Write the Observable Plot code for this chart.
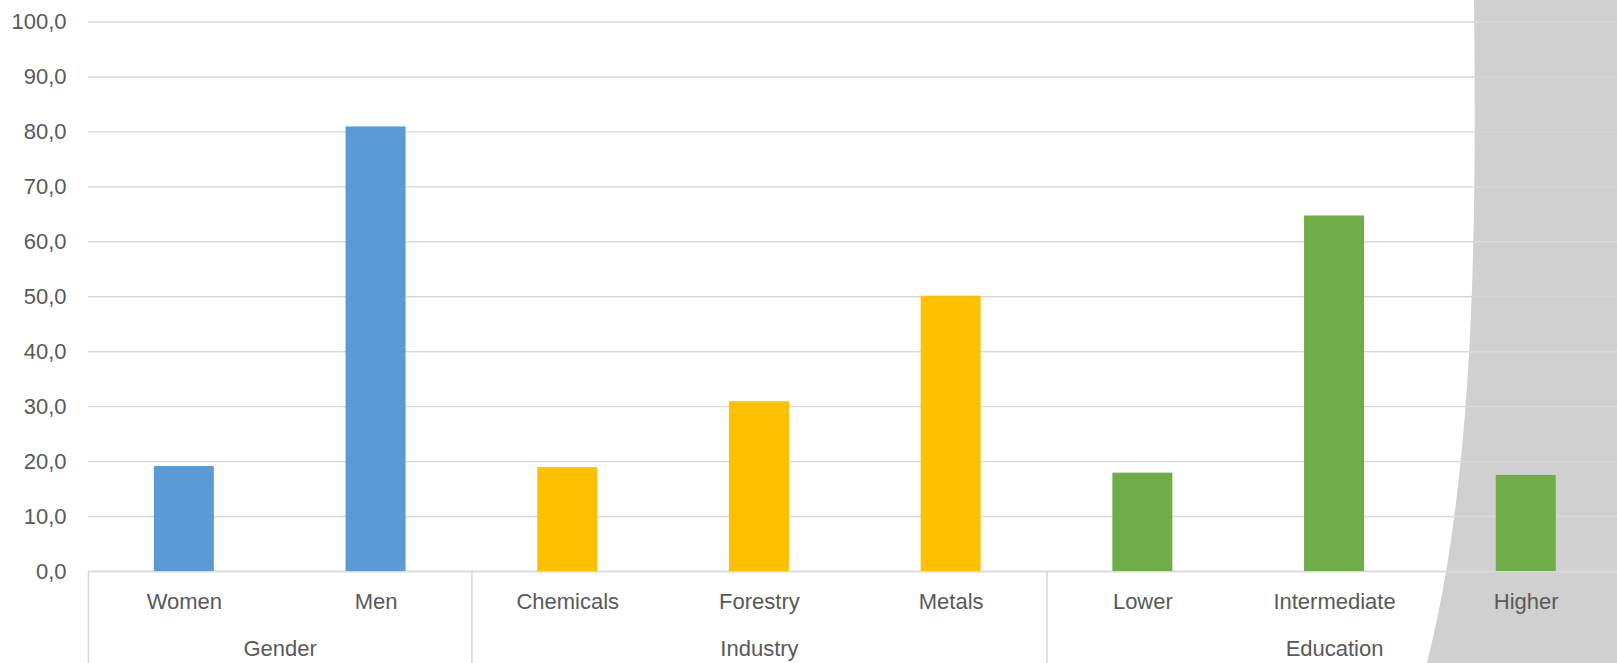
<!DOCTYPE html>
<html><head><meta charset="utf-8">
<script src="https://cdn.jsdelivr.net/npm/d3@7"></script>
<script src="https://cdn.jsdelivr.net/npm/@observablehq/plot@0.6"></script>
<style>
html,body{margin:0;padding:0;background:#fff;overflow:hidden}
#wrap{position:relative;width:1617px;height:663px}
#shade{position:absolute;left:0;top:0}
#chart{position:absolute;left:0;top:0}
</style></head><body>
<div id="wrap">
<svg id="shade" width="1617" height="663"><path d="M1474,0 C1477,250 1473,480 1427,663 L1617,663 L1617,0 Z" fill="#d0d0d0"/></svg>
<div id="chart"></div>
</div>
<script>
const categories = ["Women", "Men", "Chemicals", "Forestry", "Metals", "Lower", "Intermediate", "Higher"];
const categoryGroups = ["Gender", "Gender", "Industry", "Industry", "Industry", "Education", "Education", "Education"];
const values = [19.1, 80.9, 18.9, 30.9, 50.1, 17.9, 64.7, 17.5];
const groupNames = ["Gender", "Industry", "Education"];
const groupColors = ["#5B9BD5", "#FFC000", "#70AD47"];
const yTicks = [0, 10, 20, 30, 40, 50, 60, 70, 80, 90, 100];

const W = 1617, H = 663;
const mLeft = 88, mTop = 21.5, mBottom = 92;
const xRange = [mLeft, 1621.6];
const step = (xRange[1] - xRange[0]) / categories.length;
const barW = 60;
const pxPerUnit = (H - mBottom - mTop) / 100;

const data = categories.map((c, i) => ({cat: c, group: categoryGroups[i], value: values[i]}));
const colorOf = g => groupColors[groupNames.indexOf(g)];

// group layout (first category, middle category, even count?)
const groupInfo = groupNames.map(g => {
  const idx = categoryGroups.map((d, i) => d === g ? i : -1).filter(i => i >= 0);
  const n = idx.length;
  const mid = idx[Math.floor((n - 1) / 2)];
  return {name: g, first: categories[idx[0]], mid: categories[mid], even: n % 2 === 0};
});
const oddGroups = groupInfo.filter(d => !d.even);
const evenGroups = groupInfo.filter(d => d.even);

const font = "'Liberation Sans', Arial, sans-serif";
const textColor = "#595959";
const gridColor = "#d9d9d9";
const fmt = d => d.toFixed(1).replace(".", ",");

const chart = Plot.plot({
  width: W,
  height: H,
  marginLeft: mLeft,
  marginRight: 0,
  marginTop: mTop,
  marginBottom: mBottom,
  style: {background: "transparent", fontFamily: font, fontSize: "22px", color: textColor, overflow: "visible"},
  x: {domain: categories, range: xRange, padding: 0, round: false, axis: null},
  y: {domain: [0, 100], axis: null},
  marks: [
    Plot.gridY(yTicks, {stroke: gridColor, strokeOpacity: 1, strokeWidth: 1.4}),
    Plot.axisY(yTicks, {tickSize: 0, tickPadding: 22, tickFormat: fmt, fill: textColor, fontSize: 22, label: null}),
    Plot.ruleY([0], {stroke: gridColor, strokeWidth: 1.6}),
    Plot.barY(data, {x: "cat", y: "value", fill: d => colorOf(d.group), insetLeft: (step - barW) / 2, insetRight: (step - barW) / 2}),
    Plot.ruleX(groupInfo, {x: "first", dx: -step / 2, y1: 0, y2: -mBottom / pxPerUnit, stroke: gridColor, strokeWidth: 1.6, clip: false}),
    Plot.text(categories, {x: d => d, frameAnchor: "bottom", dy: 30, fill: textColor, fontSize: 22, lineAnchor: "middle"}),
    Plot.text(oddGroups, {x: "mid", frameAnchor: "bottom", dy: 77, text: "name", fill: textColor, fontSize: 22, lineAnchor: "middle"}),
    Plot.text(evenGroups, {x: "mid", dx: step / 2, frameAnchor: "bottom", dy: 77, text: "name", fill: textColor, fontSize: 22, lineAnchor: "middle"})
  ]
});
document.getElementById("chart").appendChild(chart);
</script>
</body></html>
